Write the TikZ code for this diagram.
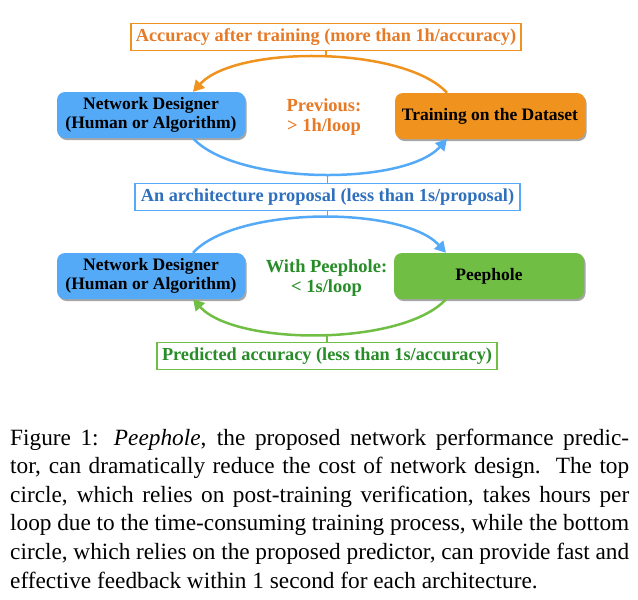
\documentclass[tikz,border=0pt]{standalone}
\usepackage{fontspec}
\setmainfont{Liberation Serif}
\usetikzlibrary{arrows.meta,shadows,calc}
\definecolor{ofill}{RGB}{240,146,30}
\definecolor{bfill}{RGB}{85,170,247}
\definecolor{gfill}{RGB}{112,190,68}
\definecolor{otext}{RGB}{230,122,38}
\definecolor{btext}{RGB}{46,112,190}
\definecolor{gtext}{RGB}{40,140,40}
\begin{document}
\begin{tikzpicture}[x=1pt,y=-1pt,
  box/.style={rounded corners=8pt, minimum height=46pt, inner sep=0pt, align=center,
    font=\bfseries\fontsize{17.5}{19.5}\selectfont,
    drop shadow={shadow xshift=1.5pt,shadow yshift=-2pt,opacity=0.35,fill=black}},
  lab/.style={draw, line width=1.5pt, fill=white, minimum height=27pt, inner sep=0pt,
    font=\bfseries\fontsize{18.3}{20}\selectfont},
  mid/.style={align=center, inner sep=0pt, font=\bfseries\fontsize{18.5}{20}\selectfont},
  arc/.style={line width=2.5pt, -{Triangle[length=11pt,width=12pt]}},
  tick/.style={line width=1.5pt}
]
\useasboundingbox (0,0) rectangle (638,600);

% top loop
\node[box, fill=bfill, minimum width=188pt] (nd1) at (151,115) {Network Designer\\(Human or Algorithm)};
\node[box, fill=ofill, minimum width=190pt] (tr) at (490,116) {Training on the Dataset};
\node[mid, text=otext] (prev) at (324,117) {Previous:\\> 1h/loop};

\draw[arc, ofill] ([xshift=-43pt]tr.north) .. controls +(-43,-47) and +(43,-47) .. ([xshift=42pt]nd1.north) coordinate[pos=0.5] (p1);
\draw[arc, bfill] ([xshift=42pt]nd1.south) .. controls +(43,47) and +(-43,47) .. ([xshift=-43pt]tr.south) coordinate[pos=0.5] (p2);

% bottom loop
\node[box, fill=bfill, minimum width=188pt] (nd2) at (151,276) {Network Designer\\(Human or Algorithm)};
\node[box, fill=gfill, minimum width=190pt] (ph) at (489,276) {Peephole};
\node[mid, text=gtext] (with) at (326.5,278) {With Peephole:\\< 1s/loop};

\draw[arc, bfill] ([xshift=42pt]nd2.north) .. controls +(43,-47) and +(-43,-47) .. ([xshift=-43pt]ph.north) coordinate[pos=0.5] (p3);
\draw[arc, gfill] ([xshift=-43pt]ph.south) .. controls +(-43,47) and +(43,47) .. ([xshift=42pt]nd2.south) coordinate[pos=0.5] (p4);

% labels
\node[lab, draw=ofill, text=otext, minimum width=390pt] (lab1) at (326,37) {Accuracy after training (more than 1h/accuracy)};
\node[lab, draw=bfill, text=btext, minimum width=385pt] (lab2) at (327.5,197) {An architecture proposal (less than 1s/proposal)};
\node[lab, draw=gfill, text=gtext, minimum width=340pt] (lab3) at (327,356) {Predicted accuracy (less than 1s/accuracy)};

\draw[tick, ofill] (lab1.south) -- (lab1.south |- p1);
\draw[tick, bfill] (lab2.north) -- (lab2.north |- p2);
\draw[tick, bfill] (lab2.south) -- (lab2.south |- p3);
\draw[tick, gfill] (lab3.north) -- (lab3.north |- p4);

% caption
\node[anchor=base west, inner sep=0pt] (cap) at (10,445) {\parbox[t]{619pt}{\fontsize{23.3}{28.6}\selectfont
\makebox[619pt][s]{Figure 1: \textit{Peephole}, the proposed network performance predic-}\\
\makebox[619pt][s]{tor, can dramatically reduce the cost of network design.\ \ The top}\\
\makebox[619pt][s]{circle, which relies on post-training verification, takes hours per}\\
\makebox[619pt][s]{loop due to the time-consuming training process, while the bottom}\\
\makebox[619pt][s]{circle, which relies on the proposed predictor, can provide fast and}\\
effective feedback within 1 second for each architecture.}};
\end{tikzpicture}
\end{document}
